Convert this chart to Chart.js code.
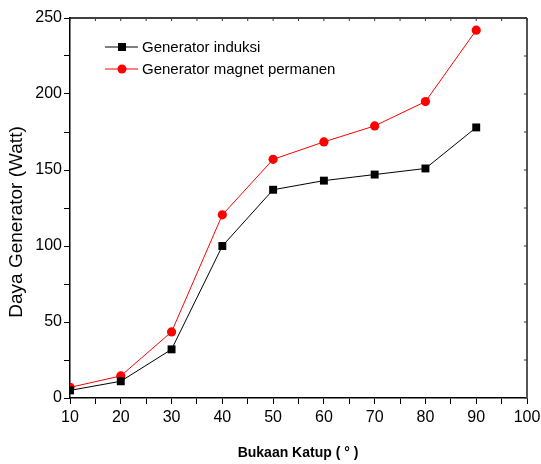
<!DOCTYPE html>
<html>
<head>
<meta charset="utf-8">
<script src="https://cdn.jsdelivr.net/npm/chart.js@4/dist/chart.umd.min.js"></script>
<style>
	html, body { margin: 0; padding: 0; background: #fff; }
	#wrap { width: 541px; height: 464px; }
</style>
</head>
<body>
<div id="wrap"><canvas id="power-chart" width="541" height="464"></canvas></div>
<script>
// Bukaan katup (derajat)
var openings = [10, 20, 30, 40, 50, 60, 70, 80, 90];
// Daya generator (Watt)
var inductionPower = [5, 11, 32, 100, 137, 143, 147, 151, 178];
var magnetPower = [7, 14.5, 43.5, 120.5, 157, 168.5, 179, 195, 242];

var seriesLabels = ['Generator induksi', 'Generator magnet permanen'];
var xTitle = 'Bukaan Katup ( \u00B0 )';
var yTitle = 'Daya Generator (Watt)';

var FONT = '"Liberation Sans", Arial, sans-serif';

function toPoints(xs, ys) {
	return xs.map(function(x, i) { return { x: x, y: ys[i] }; });
}

// Box around the plot, small inward ticks on top and right, axis titles
var framePlugin = {
	id: 'frame',
	afterDraw: function(chart) {
		var c = chart.ctx, a = chart.chartArea;
		var sx = chart.scales.x, sy = chart.scales.y;
		c.save();
		c.strokeStyle = '#000';
		c.lineWidth = 1.5;
		c.beginPath();
		c.moveTo(a.left, a.top); c.lineTo(a.right, a.top);
		c.stroke();
		c.strokeStyle = '#555';
		c.lineWidth = 2;
		c.beginPath();
		c.moveTo(a.right, a.top); c.lineTo(a.right, a.bottom);
		c.stroke();
		c.lineWidth = 1;
		c.strokeStyle = '#333';
		c.beginPath();
		sx.ticks.forEach(function(t) {
			var px = sx.getPixelForValue(t.value);
			c.moveTo(px, a.top); c.lineTo(px, a.top + 3);
		});
		sy.ticks.forEach(function(t) {
			var py = sy.getPixelForValue(t.value);
			c.moveTo(a.right, py); c.lineTo(a.right - 3, py);
		});
		c.stroke();

		// titles
		c.fillStyle = '#000';
		c.textAlign = 'center';
		c.textBaseline = 'middle';
		c.font = 'bold 14px ' + FONT;
		c.fillText(xTitle, 298, 453);
		c.translate(17, 222);
		c.rotate(-Math.PI / 2);
		c.font = '19px ' + FONT;
		c.fillText(yTitle, 0, 0);
		c.restore();
	}
};

// Legend inside the plot, top left
var legendPlugin = {
	id: 'innerLegend',
	afterDraw: function(chart) {
		var c = chart.ctx;
		c.save();
		chart.data.datasets.forEach(function(ds, i) {
			var y = 47 + i * 22;
			c.strokeStyle = ds.borderColor;
			c.lineWidth = 1;
			c.beginPath();
			c.moveTo(105, y); c.lineTo(138, y);
			c.stroke();
			c.fillStyle = ds.pointBackgroundColor;
			if (ds.pointStyle === 'rect') {
				c.fillRect(118, y - 4, 8, 8);
			} else {
				c.beginPath();
				c.arc(122, y, 4.5, 0, Math.PI * 2);
				c.fill();
			}
			c.fillStyle = '#000';
			c.font = '15px ' + FONT;
			c.textAlign = 'left';
			c.textBaseline = 'middle';
			c.fillText(ds.label, 142, y + 1);
		});
		c.restore();
	}
};

var ctx = document.getElementById('power-chart');

var chart = new Chart(ctx, {
	type: 'line',
	data: {
		datasets: [
			{
				label: seriesLabels[0],
				data: toPoints(openings, inductionPower),
				borderColor: '#000',
				backgroundColor: '#000',
				pointBackgroundColor: '#000',
				pointBorderColor: '#000',
				pointStyle: 'rect',
				pointRadius: 5.6,
				pointBorderWidth: 0,
				borderWidth: 1,
				tension: 0
			},
			{
				label: seriesLabels[1],
				data: toPoints(openings, magnetPower),
				borderColor: '#ff0000',
				backgroundColor: '#ff0000',
				pointBackgroundColor: '#ff0000',
				pointBorderColor: '#ff0000',
				pointStyle: 'circle',
				pointRadius: 4.6,
				pointBorderWidth: 0,
				borderWidth: 1,
				tension: 0
			}
		]
	},
	options: {
		responsive: false,
		animation: false,
		layout: { padding: { top: 18, right: 14, left: 0, bottom: 0 } },
		plugins: {
			legend: { display: false },
			tooltip: { enabled: false }
		},
		scales: {
			x: {
				type: 'linear',
				min: 10,
				max: 100,
				afterFit: function(s) {
					s.height = 66;
					s.paddingLeft = 0;
					s.paddingRight = 0;
				},
				ticks: {
					stepSize: 5,
					autoSkip: false,
					maxRotation: 0,
					padding: 4,
					color: '#000',
					font: { family: FONT, size: 16 },
					callback: function(v) { return v % 10 === 0 ? v : ''; }
				},
				grid: { drawOnChartArea: false, tickLength: 6, color: '#000', tickWidth: 1 },
				border: { display: true, color: '#000', width: 1.5 }
			},
			y: {
				min: 0,
				max: 250,
				afterFit: function(s) {
					s.width = 70;
					s.paddingTop = 0;
					s.paddingBottom = 0;
				},
				ticks: {
					stepSize: 25,
					autoSkip: false,
					padding: 2,
					color: '#000',
					font: { family: FONT, size: 16 },
					callback: function(v) { return v % 50 === 0 ? v : ''; }
				},
				grid: { drawOnChartArea: false, tickLength: 6, color: '#000', tickWidth: 1 },
				border: { display: true, color: '#000', width: 1.5 }
			}
		}
	},
	plugins: [framePlugin, legendPlugin]
});
</script>
</body>
</html>
